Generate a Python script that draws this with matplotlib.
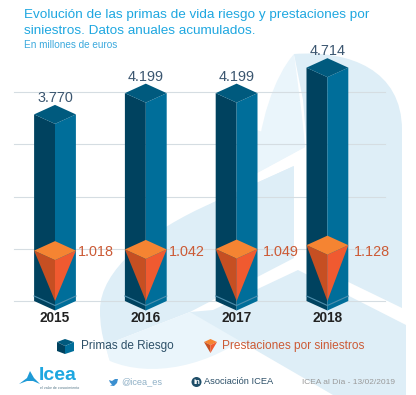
import matplotlib
matplotlib.use("Agg")
import matplotlib.pyplot as plt
from matplotlib.patches import Polygon, PathPatch, Circle
from matplotlib.path import Path

plt.rcParams['font.family'] = ['Liberation Sans', 'DejaVu Sans']

# Data
years = ['2015', '2016', '2017', '2018']
primas = [3770, 4199, 4199, 4714]
prestaciones = [1018, 1042, 1049, 1128]
grid_values = [0, 1055, 2110, 3180, 4230]

W, H = 416, 395
fig = plt.figure(figsize=(W / 100, H / 100), dpi=100)
fig.patch.set_facecolor('white')

# Background shapes, in pixels
bg = fig.add_axes([0, 0, 1, 1], zorder=0)
bg.set_xlim(0, W)
bg.set_ylim(H, 0)
bg.axis('off')

LIGHT = '#eaf5fb'
DARK = '#deeef7'


def curve(points, color):
    # first point is a move, then triples of cubic bezier points
    codes = [Path.MOVETO] + [Path.CURVE4] * (len(points) - 1)
    return PathPatch(Path(points, codes), fc=color, ec='none')


bg.add_patch(curve([(257, 173), (257, 125), (275, 75), (294, 54),
                    (298, 85), (303, 120), (305, 147)], LIGHT))
bg.add_patch(Polygon([(257, 173), (257, 130), (305, 147)], fc=LIGHT, ec='none'))
bg.add_patch(curve([(294, 54), (350, 50), (402, 70), (402, 130),
                    (402, 190), (402, 250), (402, 308)], DARK))
bg.add_patch(Polygon([(294, 54), (402, 130), (402, 308), (307, 262), (307, 147), (303, 100)],
                     fc=DARK, ec='none'))
bg.add_patch(curve([(294, 166), (250, 186), (230, 195), (212, 203),
                    (150, 230), (100, 270), (100, 310),
                    (100, 325), (102, 335), (105, 345)], DARK))
bg.add_patch(Polygon([(294, 166), (212, 203), (100, 310), (105, 345), (190, 312),
                      (213, 300), (294, 258)], fc=DARK, ec='none'))
bg.add_patch(curve([(105, 345), (108, 352), (108, 358), (110, 361),
                    (150, 378), (210, 368), (258, 328)], LIGHT))
bg.add_patch(Polygon([(105, 345), (110, 361), (258, 328), (190, 312)], fc=LIGHT, ec='none'))
bg.add_patch(Polygon([(190, 312), (213, 310), (298, 270), (406, 325), (406, 395), (333, 395)],
                     fc=DARK, ec='none'))

# Chart axes: one unit of x per year, y in millions of euros
ax = fig.add_axes([0, 0, 1, 1], zorder=1)
ax.patch.set_alpha(0)
ax.axis('off')
x0, dx = 55, 90.8
per_1000 = 49.5
ax.set_xlim(-x0 / dx, (W - x0) / dx)
ax.set_ylim(-(H - 301) / per_1000 * 1000, 301 / per_1000 * 1000)

hw = 20.9 / dx
dd = 9.5 / per_1000 * 1000
foot = 5 / per_1000 * 1000

x_left, x_right = (14 - x0) / dx, (385 - x0) / dx
for g in grid_values:
    ax.plot([x_left, x_right], [g, g], color='#d5dde2', lw=0.8, zorder=1)

for i, (v, o) in enumerate(zip(primas, prestaciones)):
    # column
    ax.add_patch(Polygon([(i - hw, v), (i, v - dd), (i, -dd), (i - hw, 0)], fc='#00425f', ec='none', zorder=2))
    ax.add_patch(Polygon([(i + hw, v), (i, v - dd), (i, -dd), (i + hw, 0)], fc='#006e9a', ec='none', zorder=2))
    ax.add_patch(Polygon([(i - hw, v), (i, v + dd), (i + hw, v), (i, v - dd)], fc='#005a7e', ec='none', zorder=2))
    ax.plot([i - hw, i, i + hw], [foot, foot - dd, foot], color='#4f8fae', lw=0.8, zorder=3)
    # inverted pyramid
    ax.add_patch(Polygon([(i - hw, o), (i, o - dd), (i, 0)], fc='#c64f22', ec='none', zorder=4))
    ax.add_patch(Polygon([(i + hw, o), (i, o - dd), (i, 0)], fc='#f05a30', ec='none', zorder=4))
    ax.add_patch(Polygon([(i - hw, o), (i, o + dd), (i + hw, o), (i, o - dd)], fc='#f58432', ec='none', zorder=4))

    ax.annotate(f'{v:,}'.replace(',', '.'), (i, v + dd), xytext=(0, 0), textcoords='offset points',
                ha='center', va='bottom', fontsize=10.4, color='#3b5670', zorder=5)
    ax.annotate(years[i], (i, 0), xytext=(0, -12.5), textcoords='offset points',
                ha='center', va='center', fontsize=9.8, fontweight='bold', color='#222222', zorder=5)

label_shift = [2, 2, 5, 6]
for i, o in enumerate(prestaciones):
    ax.annotate(f'{o:,}'.replace(',', '.'), (i + hw, 1000), xytext=(label_shift[i] * 0.72, 0),
                textcoords='offset points', ha='left', va='center', fontsize=10.4,
                color='#cc5a35', zorder=5)

# Top layer for title, legend and footer, in pixels
top = fig.add_axes([0, 0, 1, 1], zorder=2)
top.patch.set_alpha(0)
top.set_xlim(0, W)
top.set_ylim(H, 0)
top.axis('off')

top.text(24, 15, 'Evolución de las primas de vida riesgo y prestaciones por', fontsize=9.7,
         color='#1ea7e0', va='center')
top.text(24, 31, 'siniestros. Datos anuales acumulados.', fontsize=9.7, color='#1ea7e0', va='center')
top.text(24, 45, 'En millones de euros', fontsize=7.2, color='#3ba9dd', va='center')

# legend icons
top.add_patch(Polygon([(57, 342), (65, 339), (74, 342), (65, 346)], fc='#005a7e', ec='none'))
top.add_patch(Polygon([(57, 342), (65, 346), (65, 354), (57, 351)], fc='#00425f', ec='none'))
top.add_patch(Polygon([(74, 342), (65, 346), (65, 354), (74, 351)], fc='#006e9a', ec='none'))
top.text(81, 346.5, 'Primas de Riesgo', fontsize=8.5, color='#2d5068', va='center')

top.add_patch(Polygon([(204, 342), (210.5, 339), (217, 342), (210.5, 345)], fc='#f58432', ec='none'))
top.add_patch(Polygon([(204, 342), (210.5, 345), (210.5, 353)], fc='#c64f22', ec='none'))
top.add_patch(Polygon([(217, 342), (210.5, 345), (210.5, 353)], fc='#f05a30', ec='none'))
top.text(222, 346.5, 'Prestaciones por siniestros', fontsize=8.6, color='#cc5a35', va='center')

# footer
top.add_patch(Polygon([(19, 384), (27, 378), (30, 371), (34, 378), (40, 384), (33, 381), (27, 381)],
                      fc='#1e9ad6', ec='none'))
top.text(39, 375.5, 'Icea', fontsize=14, color='#1ea7e0', va='center', fontweight='bold')
top.text(40, 388, 'el valor de conocimiento', fontsize=2.6, color='#557788', va='center')

top.add_patch(Polygon([(109, 380), (112, 381), (115, 379), (118, 379), (117, 383), (114, 386), (110, 385.5),
                       (112, 384.5), (110, 382.5)], fc='#3b8fd0', ec='none'))
top.text(121, 382, '@icea_es', fontsize=6.6, color='#8fb0c6', va='center')

top.add_patch(Circle((196.5, 382), 5, fc='#1f4e68', ec='none'))
top.text(196.5, 382, 'in', fontsize=5.5, color='white', fontweight='bold', ha='center', va='center')
top.text(204, 382, 'Asociación ICEA', fontsize=6.7, color='#2d5068', va='center')
top.text(302, 382, 'ICEA al Día - 13/02/2019', fontsize=6.0, color='#9a9a9a', va='center')

fig.savefig('out.png', dpi=100)
